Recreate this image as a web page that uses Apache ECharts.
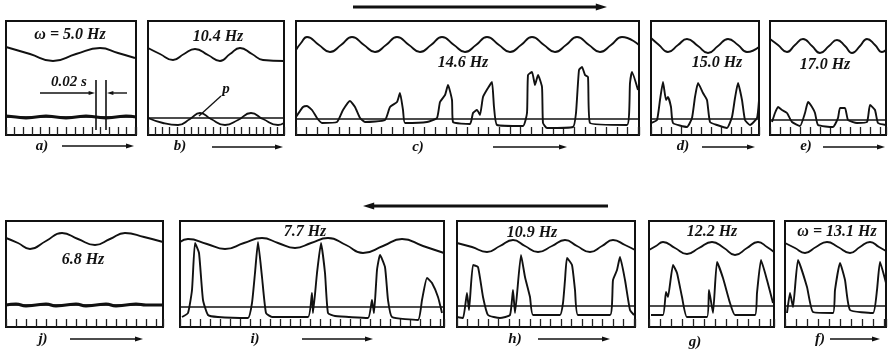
<!DOCTYPE html>
<html>
<head>
<meta charset="utf-8">
<script src="https://cdn.jsdelivr.net/npm/echarts@6/dist/echarts.min.js"></script>
<style>
  html, body { margin: 0; padding: 0; background: #fff; }
  #chart { width: 888px; height: 350px; }
</style>
</head>
<body>
<div id="chart"></div>
<script>
// panel values: x = position along the record, y = height above the panel floor
const freqLabels = ["ω = 5.0 Hz", "10.4 Hz", "14.6 Hz", "15.0 Hz", "17.0 Hz",
                    "6.8 Hz", "7.7 Hz", "10.9 Hz", "12.2 Hz", "ω = 13.1 Hz"];
const panelLetters = ["a)", "b)", "c)", "d)", "e)", "j)", "i)", "h)", "g)", "f)"];

// reference oscillation (top curve): extremes and crossings
const waveA = [[0,88],[24,81],[47,74],[70,81],[94,87],[112,82],[129,77]];
const waveB = [[0,87],[12,81],[25,75],[36,81],[47,86],[60,80],[72,74],[82,81],[92,87],
               [104,81],[115,75],[136,74]];
const waveC = [[0,85],[5,92],[11,98],[23,90],[34,83],[45,90],[56,98],[68,90],[79,83],[90,90],
               [101,98],[113,90],[124,83],[135,90],[146,98],[158,90],[169,83],[180,90],[191,98],
               [203,90],[214,83],[225,90],[236,98],[248,90],[259,83],[270,90],[281,98],[293,90],
               [304,83],[315,90],[326,98],[343,90]];
const waveD = [[0,97],[8,90],[17,83],[27,90],[36,96],[47,89],[57,82],[67,89],[77,96],[87,90],
               [96,83],[108,88]];
const waveE = [[0,96],[8,90],[17,83],[25,90],[33,96],[42,89],[50,82],[59,89],[67,95],[75,89],
               [82,82],[90,89],[97,96],[105,90],[112,83],[116,85]];
const waveJ = [[0,89],[12,84],[24,78],[40,86],[56,94],[72,88],[89,82],[104,88],[119,94],
               [138,90],[157,85]];
const waveI = [[0,85],[8,88],[27,83],[45,78],[64,84],[82,89],[98,84],[115,79],[131,84],[148,89],
               [166,82],[183,74],[203,81],[222,88],[243,81],[264,74]];
const waveH = [[0,84],[15,80],[30,75],[43,81],[56,87],[68,81],[81,75],[95,81],[108,87],
               [120,81],[133,75],[145,81],[156,87],[168,82],[178,77]];
const waveG = [[0,77],[7,81],[14,85],[26,79],[38,73],[50,79],[63,85],[75,79],[86,72],[98,79],
               [109,85],[118,80],[125,75]];
const waveF = [[0,84],[10,79],[20,74],[31,80],[42,85],[53,80],[65,74],[75,80],[85,85],
               [94,80],[101,76]];

// pressure records (lower trace)
const sigA = [[0,19],[10,18],[20,17],[30,18],[40,19],[50,18],[60,17],[70,18],[80,19],[90,18],
              [100,17],[110,18],[120,19],[130,18]];
const sigB = [[0,17],[15,12],[30,10],[42,16],[52,22],[63,16],[77,10],[90,15],[103,22],
              [115,16],[130,10],[136,12]];
const sigC = [[0,18],[7,28],[11,29],[16,25],[21,17],[26,12],[41,13],[47,25],[54,34],[59,28],
              [64,17],[69,13],[89,15],[94,28],[101,33],[104,42],[107,25],[109,12],[131,13],
              [141,17],[144,33],[149,40],[152,50],[156,35],[157,13],[174,11],[177,22],[181,25],
              [184,20],[187,38],[192,47],[196,53],[198,28],[201,10],[227,9],[231,22],[232,60],
              [236,63],[239,50],[242,60],[246,48],[247,12],[251,7],[277,8],[280,22],[283,65],
              [286,68],[289,60],[292,58],[294,12],[331,10],[334,52],[336,63],[342,45]];
const sigD = [[0,12],[6,15],[9,35],[12,53],[15,35],[17,38],[20,28],[22,12],[36,8],[41,17],
              [44,38],[47,52],[52,42],[56,35],[59,13],[66,10],[76,7],[81,18],[84,37],[87,52],
              [91,35],[94,15],[99,10],[106,17],[108,35]];
const sigE = [[2,13],[5,22],[8,28],[12,25],[17,22],[22,13],[30,9],[35,22],[38,33],[42,28],
              [45,22],[48,10],[63,8],[68,17],[70,27],[75,27],[78,15],[87,12],[97,13],[100,30],
              [105,25],[108,12],[116,10]];
const sigJ = [[0,22],[10,23],[20,21],[30,22],[40,23],[50,21],[60,22],[70,23],[80,21],[90,22],
              [100,23],[110,21],[120,22],[130,23],[140,22],[157,22]];
const sigI = [[2,10],[8,14],[12,37],[15,84],[19,74],[23,27],[28,12],[38,10],[68,9],[72,24],
              [75,54],[78,85],[82,50],[86,14],[92,10],[128,10],[132,34],[133,14],[137,54],
              [141,84],[145,54],[148,14],[155,11],[188,9],[192,27],[194,14],[197,57],[200,72],
              [205,60],[208,27],[212,10],[238,7],[242,27],[247,49],[252,44],[258,30],[262,14]];
const sigH = [[0,10],[6,9],[10,34],[12,17],[16,62],[21,60],[26,30],[31,12],[43,9],[53,12],
              [56,37],[58,14],[64,72],[68,50],[73,30],[76,12],[103,12],[106,24],[108,47],
              [110,69],[115,62],[118,37],[121,12],[153,12],[156,47],[160,57],[163,70],[168,47],
              [173,17],[177,12]];
const sigG = [[2,12],[14,12],[17,35],[19,30],[24,62],[28,54],[33,30],[38,10],[58,10],[60,37],
              [64,14],[68,65],[74,49],[81,24],[86,12],[106,12],[108,34],[112,67],[118,47],[124,24]];
const sigF = [[2,14],[5,34],[8,20],[13,67],[22,40],[28,15],[48,14],[50,37],[55,64],[60,47],
              [65,17],[88,14],[92,37],[95,65],[101,44]];

// zero line and ruler step of each panel
const baseLevels = [18, 17, 16, 16, 15, 22, 20, 21, 21, 21];
const tickSteps = [8.6, 7.2, 10.7, 10, 10, 10, 10, 10.4, 11, 11];

const waves = [waveA, waveB, waveC, waveD, waveE, waveJ, waveI, waveH, waveG, waveF];
const signals = [sigA, sigB, sigC, sigD, sigE, sigJ, sigI, sigH, sigG, sigF];

// layout of the panels on the page
const boxes = [
  [6, 21, 130, 114], [148, 21, 136, 114], [296, 21, 343, 114], [651, 21, 108, 114], [770, 21, 116, 114],
  [6, 221, 157, 106], [180, 221, 264, 106], [457, 221, 178, 106], [649, 221, 125, 106], [785, 221, 101, 106]
];
const freqPos = [[70,35],[218,37],[463,63],[717,63],[825,65],[83,260],[305,232],[532,233],[712,232],[837,232]];
const letterPos = [[42,146],[180,146],[418,147],[683,146],[806,146],[43,339],[255,339],[515,339],[695,342],[820,339]];
const smallArrows = [[62,134,146],[212,283,147],[493,567,147],[702,755,147],[823,885,147],
                     [70,143,339],[302,373,339],[538,610,339],null,[830,880,339]];

const serif = { fontFamily: "Liberation Serif", fontStyle: "italic", fontWeight: "bold", fill: "#111" };

function arrow(x1, x2, y, w, head) {
  const dir = x2 > x1 ? 1 : -1;
  return {
    type: "group",
    children: [
      { type: "line", shape: { x1: x1, y1: y, x2: x2 - dir * head, y2: y }, style: { stroke: "#111", lineWidth: w } },
      { type: "polygon", shape: { points: [[x2, y], [x2 - dir * head * 1.6, y - head * 0.5], [x2 - dir * head * 1.6, y + head * 0.5]] },
        style: { fill: "#111" } }
    ]
  };
}

const grid = [], xAxis = [], yAxis = [], series = [];
boxes.forEach((b, i) => {
  grid.push({ left: b[0], top: b[1], width: b[2], height: b[3], show: true,
              borderColor: "#111", borderWidth: 2, backgroundColor: "transparent" });
  xAxis.push({ type: "value", gridIndex: i, min: 0, max: b[2], interval: tickSteps[i],
               axisLine: { show: false }, splitLine: { show: false }, axisLabel: { show: false },
               axisTick: { show: true, inside: true, length: 8, lineStyle: { color: "#222", width: 1.3 } } });
  yAxis.push({ type: "value", gridIndex: i, min: 0, max: b[3], show: false });
  const thick = (i === 0 || i === 5);
  series.push({ type: "line", xAxisIndex: i, yAxisIndex: i, data: waves[i], smooth: 0.5, showSymbol: false,
                lineStyle: { color: "#111", width: 1.9 }, silent: true });
  series.push({ type: "line", xAxisIndex: i, yAxisIndex: i, data: [[0, baseLevels[i]], [b[2], baseLevels[i]]],
                showSymbol: false, lineStyle: { color: "#111", width: 1.4 }, silent: true });
  series.push({ type: "line", xAxisIndex: i, yAxisIndex: i, data: signals[i],
                smooth: (i === 1 || i === 0 || i === 5) ? 0.5 : 0.15, showSymbol: false,
                lineStyle: { color: "#111", width: thick ? 3.2 : 1.9 }, silent: true });
});

const graphic = [];
freqLabels.forEach((t, i) => {
  graphic.push({ type: "text", x: freqPos[i][0], y: freqPos[i][1],
                 style: Object.assign({ text: t, fontSize: 16, align: "center", verticalAlign: "middle" }, serif) });
  graphic.push({ type: "text", x: letterPos[i][0], y: letterPos[i][1],
                 style: Object.assign({ text: panelLetters[i], fontSize: 15, align: "center", verticalAlign: "middle" }, serif) });
  if (smallArrows[i]) graphic.push(arrow(smallArrows[i][0], smallArrows[i][1], smallArrows[i][2], 1.6, 5));
});
// direction of the frequency sweep
graphic.push(arrow(353, 607, 7, 3, 7));
graphic.push(arrow(608, 363, 206, 3, 7));
// panel a: time mark
graphic.push({ type: "line", shape: { x1: 96, y1: 80, x2: 96, y2: 130 }, style: { stroke: "#111", lineWidth: 1.6 } });
graphic.push({ type: "line", shape: { x1: 106, y1: 80, x2: 106, y2: 130 }, style: { stroke: "#111", lineWidth: 1.6 } });
graphic.push(arrow(40, 95, 93, 1.4, 4));
graphic.push(arrow(127, 107, 93, 1.4, 4));
graphic.push({ type: "text", x: 69, y: 82, style: Object.assign({ text: "0.02 s", fontSize: 15, align: "center", verticalAlign: "middle" }, serif) });
// panel b: label p
graphic.push({ type: "text", x: 226, y: 89, style: Object.assign({ text: "p", fontSize: 15, align: "center", verticalAlign: "middle" }, serif) });
graphic.push({ type: "line", shape: { x1: 221, y1: 96, x2: 199, y2: 116 }, style: { stroke: "#111", lineWidth: 1.3 } });

const chart = echarts.init(document.getElementById("chart"), null, { renderer: "canvas" });
chart.setOption({
  animation: false,
  backgroundColor: "#fff",
  grid: grid,
  xAxis: xAxis,
  yAxis: yAxis,
  series: series,
  graphic: graphic
});
</script>
</body>
</html>
